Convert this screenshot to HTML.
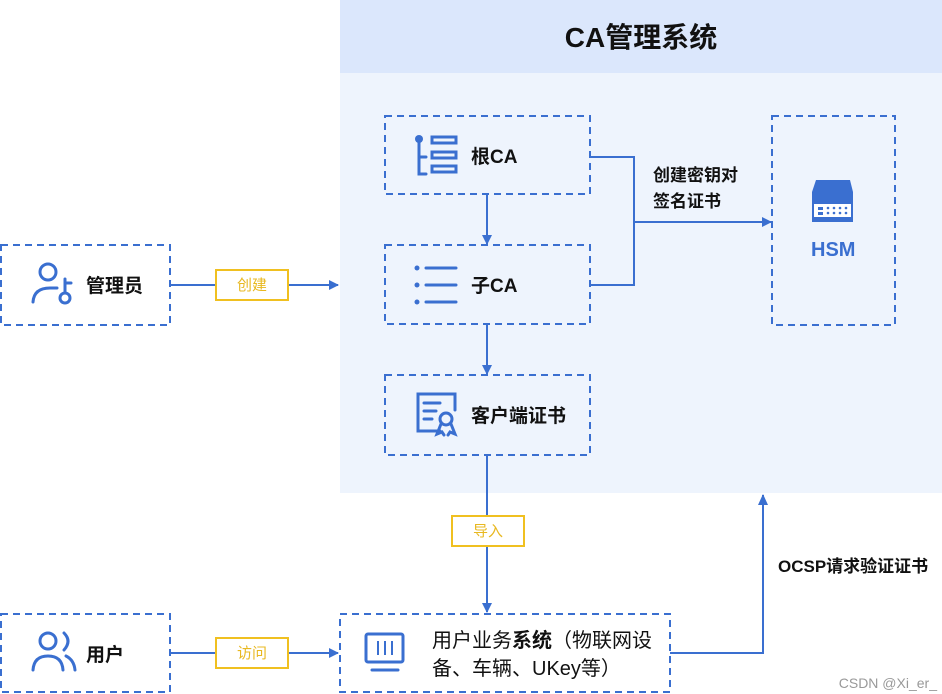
<!DOCTYPE html>
<html><head><meta charset="utf-8"><style>
html,body{margin:0;padding:0;background:#fff;}
svg{display:block;font-family:"Liberation Sans","Noto Sans CJK SC",sans-serif;}
</style></head><body>
<svg width="942" height="694" viewBox="0 0 942 694" xmlns="http://www.w3.org/2000/svg">
<defs><marker id="a" markerWidth="10" markerHeight="10" refX="9" refY="5" orient="auto" markerUnits="userSpaceOnUse"><path d="M0,0 L10,5 L0,10 z" fill="#3a6fd0"/></marker></defs>
<rect x="340" y="0" width="602" height="493" fill="#eef4fd"/>
<rect x="340" y="0" width="602" height="73" fill="#dbe7fc"/>
<text x="641" y="47" font-size="28" font-weight="bold" text-anchor="middle" fill="#111">CA管理系统</text>
<g fill="none" stroke="#3a6fd0" stroke-width="2" stroke-dasharray="7,5">
<rect x="1" y="245" width="169" height="80"/>
<rect x="385" y="116" width="205" height="78"/>
<rect x="385" y="245" width="205" height="79"/>
<rect x="385" y="375" width="205" height="80"/>
<rect x="772" y="116" width="123" height="209"/>
<rect x="1" y="614" width="169" height="78"/>
<rect x="340" y="614" width="330" height="78"/>
</g>
<g stroke="#3a6fd0" stroke-width="2" fill="none">
<line x1="170" y1="285" x2="338" y2="285" marker-end="url(#a)"/>
<line x1="487" y1="194" x2="487" y2="244" marker-end="url(#a)"/>
<line x1="487" y1="324" x2="487" y2="374" marker-end="url(#a)"/>
<line x1="487" y1="455" x2="487" y2="612" marker-end="url(#a)"/>
<polyline points="590,157 634,157 634,285 590,285"/>
<line x1="634" y1="222" x2="771" y2="222" marker-end="url(#a)"/>
<line x1="170" y1="653" x2="338" y2="653" marker-end="url(#a)"/>
<polyline points="670,653 763,653 763,495" />
</g>
<path d="M758,505 L763,494 L768,505 z" fill="#3a6fd0"/>
<g fill="#fff" stroke="#f0c020" stroke-width="2">
<rect x="216" y="270" width="72" height="30"/>
<rect x="452" y="516" width="72" height="30"/>
<rect x="216" y="638" width="72" height="30"/>
</g>
<g font-size="15" fill="#e8b820" text-anchor="middle">
<text x="252" y="290">创建</text><text x="488" y="536">导入</text><text x="252" y="658">访问</text>
</g>
<g font-size="19" font-weight="bold" fill="#111">
<text x="86" y="292">管理员</text>
<text x="471" y="163">根CA</text>
<text x="471" y="292">子CA</text>
<text x="471" y="422">客户端证书</text>
<text x="86" y="661">用户</text>
</g>
<g font-size="17" font-weight="bold" fill="#111">
<text x="653" y="181">创建密钥对</text>
<text x="653" y="207">签名证书</text>
<text x="778" y="572">OCSP请求验证证书</text>
</g>
<text x="811" y="256" font-size="20" font-weight="bold" fill="#3a6fd0">HSM</text>
<text x="432" y="647" font-size="20" fill="#111">用户业务<tspan font-weight="bold">系统</tspan>（物联网设</text>
<text x="432" y="675" font-size="20" fill="#111">备、车辆、UKey等）</text>
<text x="937" y="688" font-size="14" fill="#999" text-anchor="end">CSDN @Xi_er_</text>
<g stroke="#3a6fd0" stroke-width="3" fill="none" stroke-linecap="round">
<circle cx="48" cy="272" r="8"/>
<path d="M33,302 Q34,288 50,288 L57,288"/>
<circle cx="65" cy="298" r="5"/><line x1="65" y1="293" x2="65" y2="279"/><line x1="65" y1="283" x2="71" y2="283"/>
<circle cx="48" cy="641" r="8"/><path d="M33,670 Q34,656 48,656 Q62,656 63,670"/><path d="M64,633 Q72,641 64,650 M66,656 Q74,660 75,670"/>
<path d="M419,142 L419,174 L426,174 M419,157 L426,157"/>
<rect x="432" y="137" width="24" height="6"/><rect x="432" y="152" width="24" height="6"/><rect x="432" y="166" width="24" height="6"/>
<line x1="426" y1="268" x2="456" y2="268"/><line x1="426" y1="285" x2="456" y2="285"/><line x1="426" y1="302" x2="456" y2="302"/>
<path d="M440,431 L418,431 L418,394 L455,394 L455,410"/>
<line x1="424" y1="403" x2="440" y2="403"/><line x1="424" y1="411" x2="436" y2="411"/><line x1="424" y1="419" x2="432" y2="419"/>
<circle cx="446" cy="419" r="6"/><path d="M441,424 L437,434 L442,432 L444,435 M451,424 L455,434 L450,432 L448,435"/>
<rect x="366" y="634" width="37" height="28" rx="2"/><line x1="372" y1="670" x2="398" y2="670"/>
</g>
<g fill="#3a6fd0">
<circle cx="419" cy="139" r="4"/>
<circle cx="417" cy="268" r="2.5"/><circle cx="417" cy="285" r="2.5"/><circle cx="417" cy="302" r="2.5"/>
<rect x="377" y="641" width="2" height="14"/><rect x="384" y="641" width="2" height="14"/><rect x="391" y="641" width="2" height="14"/>
<path d="M816,180 L850,180 L853,192 L853,222 L812,222 L812,192 z"/>
</g>
<rect x="814" y="204" width="37" height="13" fill="#fff"/>
<g fill="#3a6fd0"><rect x="818" y="207" width="5" height="3"/><rect x="818" y="212" width="5" height="3"/>
<circle cx="828" cy="208" r="1.3"/><circle cx="834" cy="208" r="1.3"/><circle cx="840" cy="208" r="1.3"/><circle cx="846" cy="208" r="1.3"/>
<circle cx="828" cy="213" r="1.3"/><circle cx="834" cy="213" r="1.3"/><circle cx="840" cy="213" r="1.3"/><circle cx="846" cy="213" r="1.3"/></g>
</svg>
</body></html>
